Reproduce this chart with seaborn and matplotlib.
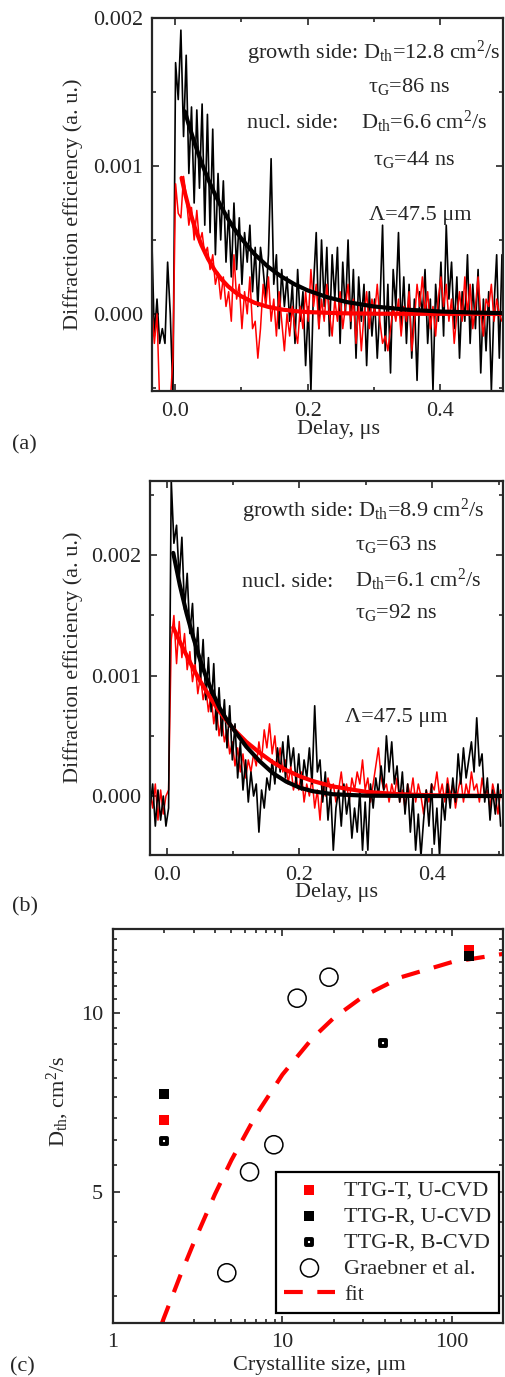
import numpy as np
import seaborn as sns
import matplotlib.pyplot as plt
from matplotlib import ticker

sns.set_style("ticks")
plt.rcParams['font.family'] = ['Liberation Serif', 'DejaVu Serif']
plt.rcParams['mathtext.fontset'] = 'custom'
plt.rcParams['mathtext.rm'] = 'Liberation Serif'
plt.rcParams['mathtext.it'] = 'Liberation Serif:italic'
plt.rcParams['font.size'] = 16

# ---- panel (a): delay grid (us) and signals (units of 1e-3) ----
delay_a = np.round(-0.035 + 0.004 * np.arange(133), 3)
growth_a = [0.55, -0.15, 0.10, -0.20, -0.10, -0.20, 0.35, 0.00, -0.55, 1.70,
            1.45, 1.92, 1.20, 1.75, 0.95, 1.40, 0.75, 1.38, 0.85, 1.42,
            0.60, 1.35, 0.55, 1.25, 0.40, 0.95, 0.50, 0.90, 0.35, 0.70,
            0.25, 0.75, 0.30, 0.65, 0.20, 0.55, 0.35, 0.60, 0.15, 0.45,
            0.05, 0.45, 0.30, 0.10, 0.40, 1.05, 0.20, 0.40, -0.10, 0.30,
            0.05, 0.25, -0.05, 0.20, -0.20, 0.30, -0.05, 0.15, -0.35, 0.05,
            -0.52, 0.20, 0.55, -0.10, 0.50, 0.05, 0.45, -0.15, 0.40, 0.10,
            0.45, -0.20, 0.35, 0.00, 0.50, -0.10, 0.30, -0.30, 0.25, -0.05,
            0.20, -0.35, 0.15, -0.15, 0.10, -0.30, 0.05, 0.60, -0.25, 0.20,
            -0.40, 0.30, 0.05, 0.55, -0.10, 0.25, -0.20, 0.20, -0.30, 0.10,
            -0.45, 0.15, 0.00, 0.30, -0.20, 0.10, -0.52, 0.20, -0.05, 0.35,
            -0.15, 0.60, 0.10, 0.35, -0.10, 0.25, -0.30, 0.15, -0.05, 0.40,
            -0.20, 0.20, -0.10, 0.30, -0.40, 0.10, -0.25, 0.15, -0.52, 0.05,
            0.40, -0.30, 0.40]
nucl_a = [0.05, -0.20, 0.00, -0.60, -0.70, -0.70, -0.70, -0.60, -0.30, 0.88,
          0.68, 0.65, 0.93, 0.80, 0.60, 0.72, 0.50, 0.70, 0.48, 0.55,
          0.40, 0.45, 0.30, 0.40, 0.20, 0.28, 0.10, 0.25, 0.05, 0.15,
          -0.05, 0.40, 0.10, 0.20, -0.10, 0.15, 0.00, 0.25, -0.10, -0.05,
          -0.30, -0.10, 0.20, 0.05, 0.25, -0.05, 0.10, -0.15, 0.15, -0.05,
          -0.25, 0.00, -0.15, 0.05, -0.10, -0.20, 0.05, -0.10, 0.15, -0.05,
          0.30, 0.05, 0.20, -0.10, 0.10, -0.05, 0.20, 0.00, -0.15, 0.10,
          -0.05, 0.15, -0.10, 0.05, 0.20, -0.05, 0.10, -0.20, 0.05, -0.25,
          0.00, 0.15, -0.10, 0.10, 0.00, 0.20, -0.05, -0.20, -0.15, -0.25,
          -0.10, 0.05, -0.05, 0.10, -0.15, 0.05, -0.05, 0.15, -0.25, -0.05,
          0.20, 0.05, 0.25, 0.00, 0.15, -0.10, 0.05, -0.15, 0.10, 0.25,
          0.05, 0.20, -0.05, 0.10, -0.20, 0.00, 0.15, -0.05, 0.25, 0.00,
          0.20, -0.10, 0.05, 0.25, 0.00, -0.15, 0.10, 0.05, 0.20, -0.05,
          0.10, 0.00, -0.05]
fit_growth_a_t = [0.015, 0.02, 0.03, 0.04, 0.05, 0.06, 0.07, 0.08, 0.09, 0.10, 0.12,
                  0.14, 0.16, 0.18, 0.20, 0.23, 0.26, 0.30, 0.35, 0.40, 0.45, 0.495]
fit_growth_a = [1.37, 1.293, 1.151, 1.024, 0.912, 0.812, 0.723, 0.643, 0.573, 0.510, 0.404,
                0.320, 0.254, 0.201, 0.159, 0.112, 0.079, 0.050, 0.028, 0.016, 0.009, 0.005]
fit_nucl_a_t = [0.01, 0.015, 0.02, 0.03, 0.04, 0.05, 0.06, 0.07, 0.08, 0.09, 0.10,
                0.12, 0.14, 0.16, 0.18, 0.20, 0.25, 0.30, 0.40, 0.495]
fit_nucl_a = [0.92, 0.82, 0.733, 0.584, 0.465, 0.371, 0.295, 0.235, 0.187, 0.149, 0.119,
              0.075, 0.048, 0.030, 0.019, 0.012, 0.004, 0.001, 0.0, 0.0]

# ---- panel (b) ----
delay_b = np.round(-0.025 + 0.004 * np.arange(133), 3)
growth_b = [-0.10, 0.10, -0.25, 0.05, -0.20, 0.00, -0.25, -0.10, 2.62, 2.10,
            2.25, 1.80, 2.15, 1.55, 1.85, 1.35, 1.60, 1.10, 1.40, 0.95,
            1.30, 0.80, 1.15, 0.70, 1.10, 0.55, 0.90, 0.50, 0.80, 0.40,
            0.75, 0.30, 0.60, 0.15, 0.45, 0.05, 0.30, -0.05, 0.20, 0.00,
            0.10, -0.30, 0.05, -0.10, 0.15, 0.05, 0.30, 0.10, 0.40, 0.20,
            0.45, 0.15, 0.50, 0.25, 0.40, 0.10, 0.35, 0.05, 0.30, 0.15,
            0.40, 0.10, 0.75, 0.20, 0.30, -0.05, 0.20, -0.20, 0.05, -0.45,
            -0.10, 0.05, -0.25, 0.10, -0.15, 0.00, -0.35, -0.10, -0.30, 0.05,
            -0.45, -0.05, -0.45, 0.10, -0.10, 0.15, 0.00, 0.25, 0.05, 0.50,
            0.20, 0.45, 0.10, 0.25, -0.05, 0.20, -0.15, 0.10, -0.30, 0.00,
            -0.45, -0.15, -0.50, -0.20, 0.05, -0.25, 0.10, -0.40, -0.10, -0.50,
            0.00, -0.20, 0.10, -0.10, 0.15, -0.05, 0.35, 0.10, 0.40, 0.15,
            0.30, 0.45, 0.20, 0.65, 0.25, 0.35, -0.05, 0.15, -0.20, 0.05,
            -0.15, 0.10, -0.25]
nucl_b = [0.05, -0.10, 0.10, -0.20, 0.05, -0.15, 0.00, 0.05, 1.30, 1.50,
          1.10, 1.45, 1.15, 1.35, 1.05, 1.20, 0.95, 1.10, 0.85, 1.00,
          0.80, 0.90, 0.70, 0.85, 0.60, 0.75, 0.50, 0.65, 0.45, 0.55,
          0.35, 0.45, 0.25, 0.40, 0.20, 0.35, 0.15, 0.30, 0.20, 0.35,
          0.25, 0.45, 0.30, 0.55, 0.40, 0.60, 0.35, 0.50, 0.25, 0.40,
          0.20, 0.30, 0.10, 0.25, 0.05, 0.15, 0.05, 0.20, -0.05, 0.10,
          0.00, 0.15, -0.10, 0.05, -0.20, 0.10, 0.00, 0.15, 0.05, 0.10,
          -0.05, 0.05, 0.20, 0.00, 0.10, -0.05, 0.15, 0.05, 0.20, 0.10,
          0.30, 0.05, 0.15, -0.05, 0.10, 0.25, 0.40, 0.15, 0.05, 0.10,
          -0.05, 0.10, 0.00, 0.15, -0.05, 0.05, -0.10, 0.10, 0.00, 0.15,
          -0.05, 0.10, 0.00, -0.15, 0.05, -0.05, 0.10, 0.05, 0.20, 0.00,
          0.10, -0.05, 0.15, 0.00, 0.10, -0.10, 0.05, 0.15, -0.05, 0.10,
          0.00, 0.20, 0.05, 0.10, -0.05, 0.15, 0.00, 0.05, -0.10, 0.10,
          0.00, -0.15, 0.05]
fit_growth_b_t = [0.01, 0.02, 0.03, 0.04, 0.05, 0.06, 0.07, 0.08, 0.09, 0.10, 0.12,
                  0.14, 0.16, 0.18, 0.20, 0.22, 0.25, 0.30, 0.40, 0.505]
fit_growth_b = [2.02, 1.75, 1.52, 1.32, 1.14, 0.98, 0.85, 0.73, 0.64, 0.56, 0.41,
                0.29, 0.19, 0.12, 0.07, 0.04, 0.015, 0.003, 0.0, 0.0]
fit_nucl_b_t = [0.01, 0.02, 0.03, 0.04, 0.05, 0.06, 0.07, 0.08, 0.09, 0.10, 0.12,
                0.14, 0.16, 0.18, 0.20, 0.22, 0.25, 0.30, 0.35, 0.40, 0.505]
fit_nucl_b = [1.40, 1.28, 1.17, 1.06, 0.96, 0.87, 0.78, 0.70, 0.63, 0.56, 0.45,
              0.36, 0.28, 0.215, 0.165, 0.125, 0.08, 0.035, 0.015, 0.006, 0.0]

# ---- panel (c) ----
ttg_t_size = [2, 125]
ttg_t_D = [6.6, 12.8]
ttg_ru_size = [2, 125]
ttg_ru_D = [7.3, 12.5]
ttg_rb_size = [2, 39]
ttg_rb_D = [6.1, 8.9]
graebner_size = [4.7, 6.4, 8.9, 12.2, 18.8]
graebner_D = [3.65, 5.4, 6.0, 10.6, 11.5]
fit_size = [1.95, 2, 2.5, 3, 4, 5, 7, 10, 15, 20, 30, 50, 100, 200]
fit_D = [3.0, 3.06, 3.61, 4.1, 4.95, 5.65, 6.74, 7.88, 9.07, 9.81, 10.68, 11.5, 12.2, 12.59]

W, H = 505, 1377
fig = plt.figure(figsize=(W / 100, H / 100), dpi=100)


def box(l, t, r, b):
    return [l / W, 1 - b / H, (r - l) / W, (b - t) / H]


def style_axes(ax):
    ax.tick_params(which='both', direction='in', top=True, right=True, width=1.2, labelsize=16)
    ax.tick_params(which='major', length=5)
    ax.tick_params(which='minor', length=3)
    for s in ax.spines.values():
        s.set_linewidth(1.6)


def trace_panel(ax, t, growth, nucl, fg_t, fg, fn_t, fn, xlim, ylim, red_on_top):
    g = np.array(growth) * 1e-3
    n = np.array(nucl) * 1e-3
    if red_on_top:
        sns.lineplot(x=t, y=g, color='black', lw=1.2, ax=ax, sort=False, estimator=None)
        sns.lineplot(x=t, y=n, color='red', lw=1.1, ax=ax, sort=False, estimator=None)
    else:
        sns.lineplot(x=t, y=n, color='red', lw=1.1, ax=ax, sort=False, estimator=None)
        sns.lineplot(x=t, y=g, color='black', lw=1.2, ax=ax, sort=False, estimator=None)
    sns.lineplot(x=fn_t, y=np.array(fn) * 1e-3, color='red', lw=3, ax=ax, sort=False, estimator=None)
    sns.lineplot(x=fg_t, y=np.array(fg) * 1e-3, color='black', lw=3, ax=ax, sort=False, estimator=None)
    ax.set_xlim(*xlim)
    ax.set_ylim(*ylim)
    ax.xaxis.set_major_locator(ticker.MultipleLocator(0.2))
    ax.xaxis.set_minor_locator(ticker.MultipleLocator(0.1))
    ax.yaxis.set_major_locator(ticker.MultipleLocator(0.001))
    ax.yaxis.set_minor_locator(ticker.MultipleLocator(0.0005))
    ax.xaxis.set_major_formatter(ticker.FormatStrFormatter('%.1f'))
    ax.yaxis.set_major_formatter(ticker.FormatStrFormatter('%.3f'))
    style_axes(ax)
    ax.tick_params(axis='y', pad=6)
    ax.tick_params(axis='x', pad=8)
    ax.set_xlabel("Delay, μs", fontsize=16)
    ax.set_ylabel("Diffraction efficiency (a. u.)", fontsize=16)
    ax.xaxis.label.set_va('center')
    ax.yaxis.label.set_va('center')


def ftext(x, y, s):
    fig.text(x / W, 1 - y / H, s, fontsize=16, ha='left', va='baseline')


# (a)
ax1 = fig.add_axes(box(151.7, 18.3, 503.3, 390.7))
trace_panel(ax1, delay_a, growth_a, nucl_a, fit_growth_a_t, fit_growth_a,
            fit_nucl_a_t, fit_nucl_a, (-0.035, 0.495), (-0.00052, 0.002), True)
ax1.xaxis.set_label_coords(0.53, -0.1055)
ax1.yaxis.set_label_coords(-0.225, 0.5)
ftext(246.7, 59.3, r"growth side: D$_{\rm th}$=12.8 cm$^2$/s")
ftext(368.3, 91.7, r"τ$_{\rm G}$=86 ns")
ftext(246.7, 128.3, "nucl. side:")
ftext(361.0, 128.3, r"D$_{\rm th}$=6.6 cm$^2$/s")
ftext(372.7, 165.0, r"τ$_{\rm G}$=44 ns")
ftext(369.3, 220.0, "Λ=47.5 μm")
fig.text(12 / W, 1 - 445 / H, "(a)", fontsize=16, va='center')

# (b)
ax2 = fig.add_axes(box(150, 480.7, 503.3, 855))
trace_panel(ax2, delay_b, growth_b, nucl_b, fit_growth_b_t, fit_growth_b,
            fit_nucl_b_t, fit_nucl_b, (-0.025, 0.507), (-0.00049, 0.00262), False)
ax2.xaxis.set_label_coords(0.529, -0.1015)
ax2.yaxis.set_label_coords(-0.219, 0.529)
ftext(241.7, 516.7, r"growth side: D$_{\rm th}$=8.9 cm$^2$/s")
ftext(355.0, 550.0, r"τ$_{\rm G}$=63 ns")
ftext(241.7, 586.7, "nucl. side:")
ftext(355.0, 586.7, r"D$_{\rm th}$=6.1 cm$^2$/s")
ftext(355.0, 618.3, r"τ$_{\rm G}$=92 ns")
ftext(345.0, 721.7, "Λ=47.5 μm")
fig.text(12 / W, 1 - 907 / H, "(b)", fontsize=16, va='center')

# (c)
ax3 = fig.add_axes(box(112.7, 929.3, 503.3, 1323.3))
sns.lineplot(x=fit_size, y=fit_D, color='red', lw=3, ax=ax3, sort=False, estimator=None,
             label='fit', dashes=False)
ax3.lines[-1].set_dashes([4.5, 3.5])
sns.scatterplot(x=ttg_t_size, y=ttg_t_D, marker='s', color='red', s=45, linewidth=0,
                ax=ax3, label='TTG-T, U-CVD', zorder=3)
sns.scatterplot(x=ttg_ru_size, y=ttg_ru_D, marker='s', color='black', s=45, linewidth=0,
                ax=ax3, label='TTG-R, U-CVD', zorder=4)
sns.scatterplot(x=ttg_rb_size, y=ttg_rb_D, marker='s', facecolor='white', edgecolor='black',
                s=22, linewidth=2.8, ax=ax3, label='TTG-R, B-CVD', zorder=4)
sns.scatterplot(x=graebner_size, y=graebner_D, marker='o', facecolor='none', edgecolor='black',
                s=170, linewidth=1.1, ax=ax3, label='Graebner et al.', zorder=4)
ax3.set_xscale('log')
ax3.set_yscale('log')
ax3.set_xlim(1, 200)
ax3.set_ylim(3.0, 13.85)
ax3.xaxis.set_major_locator(ticker.FixedLocator([1, 10, 100]))
ax3.xaxis.set_major_formatter(ticker.FuncFormatter(lambda v, p: f"{v:g}"))
ax3.xaxis.set_minor_locator(ticker.LogLocator(base=10, subs=np.arange(2, 10)))
ax3.xaxis.set_minor_formatter(ticker.NullFormatter())
ax3.yaxis.set_major_locator(ticker.FixedLocator([5, 10]))
ax3.yaxis.set_major_formatter(ticker.FuncFormatter(lambda v, p: f"{v:g}"))
ax3.yaxis.set_minor_locator(ticker.FixedLocator(np.arange(6, 25) * 5 / 9))
ax3.yaxis.set_minor_formatter(ticker.NullFormatter())
style_axes(ax3)
ax3.tick_params(pad=7)
ax3.set_xlabel("Crystallite size, μm", fontsize=16)
ax3.set_ylabel(r"D$_{\rm th}$, cm$^2$/s", fontsize=16)
ax3.xaxis.label.set_va('center')
ax3.yaxis.label.set_va('center')
ax3.xaxis.set_label_coords(0.528, -0.106)
ax3.yaxis.set_label_coords(-0.139, 0.5625)

handles, labels = ax3.get_legend_handles_labels()
order = ['TTG-T, U-CVD', 'TTG-R, U-CVD', 'TTG-R, B-CVD', 'Graebner et al.', 'fit']
hmap = dict(zip(labels, handles))
leg = ax3.legend([hmap[k] for k in order], order, loc='lower right',
                 bbox_to_anchor=(0.9885, 0.027), borderaxespad=0, fontsize=16,
                 frameon=True, fancybox=False, handlelength=2.3, handletextpad=0.4,
                 labelspacing=0.25, borderpad=0.35)
leg.get_frame().set_edgecolor('black')
leg.get_frame().set_linewidth(1.6)
leg.get_frame().set_alpha(1)
fig.text(10 / W, 1 - 1367 / H, "(c)", fontsize=16, va='center')

fig.savefig("out.png", dpi=100)
